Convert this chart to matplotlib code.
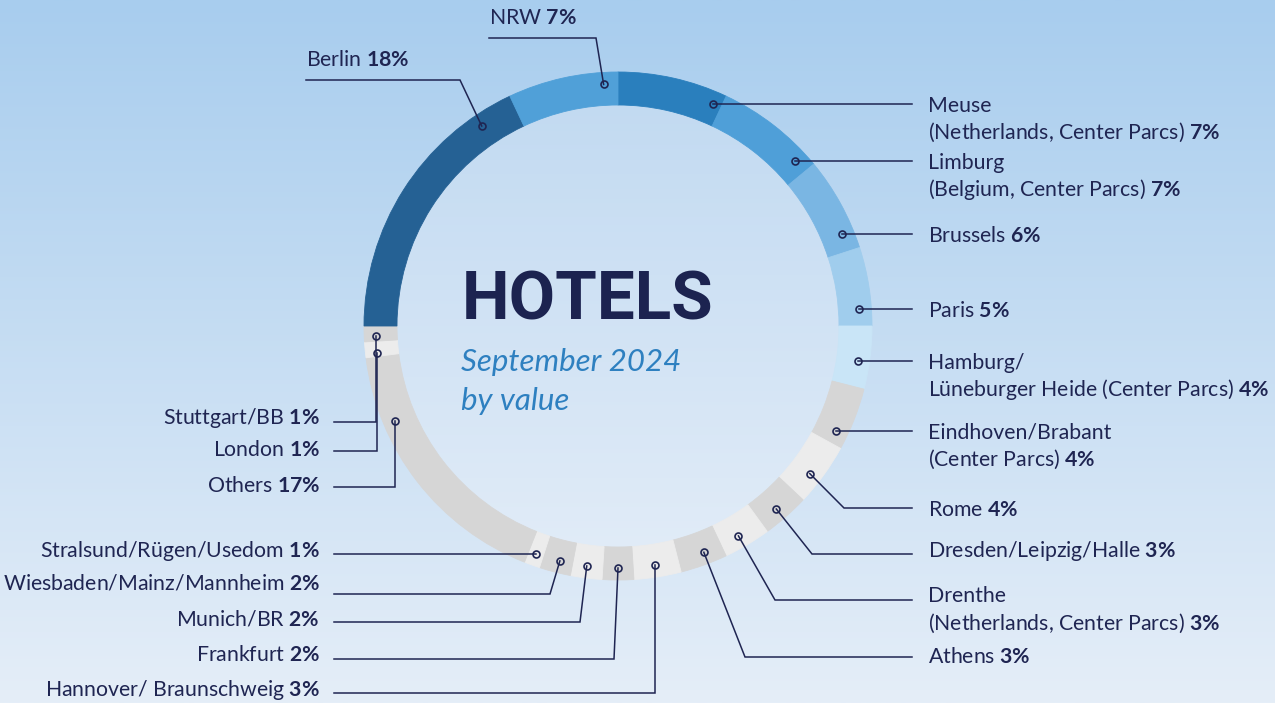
import numpy as np
import matplotlib.pyplot as plt
import matplotlib.colors as mcolors
from matplotlib.patches import Circle

plt.rcParams['font.family'] = ['Lato', 'DejaVu Sans']
plt.rcParams['mathtext.fontset'] = 'custom'
plt.rcParams['mathtext.rm'] = 'Lato'
plt.rcParams['mathtext.bf'] = 'Lato:bold'

W, H = 1275, 703

names = ["Meuse\n(Netherlands, Center Parcs)", "Limburg\n(Belgium, Center Parcs)", "Brussels", "Paris",
         "Hamburg/\nLüneburger Heide (Center Parcs)", "Eindhoven/Brabant\n(Center Parcs)", "Rome",
         "Dresden/Leipzig/Halle", "Drenthe\n(Netherlands, Center Parcs)", "Athens",
         "Hannover/ Braunschweig", "Frankfurt", "Munich/BR", "Wiesbaden/Mainz/Mannheim",
         "Stralsund/Rügen/Usedom", "Others", "London", "Stuttgart/BB", "Berlin", "NRW"]
shares = [7, 7, 6, 5, 4, 4, 4, 3, 3, 3, 3, 2, 2, 2, 1, 17, 1, 1, 18, 7]
colors = ['#2a7fbd', '#4f9fd8', '#7ab6e3', '#a0cded', '#c9e5f7', '#d6d6d6', '#ececec',
          '#d6d6d6', '#ececec', '#d6d6d6', '#ececec', '#d6d6d6', '#ececec', '#d6d6d6',
          '#ececec', '#d6d6d6', '#ececec', '#d6d6d6', '#256194', '#50a0d8']

# label layout (pixel coords, y from top): side, text y, line y, elbow x, dot position in segment
side = ['R', 'R', 'R', 'R', 'R', 'R', 'R', 'R', 'R', 'R',
        'L', 'L', 'L', 'L', 'L', 'L', 'L', 'L', 'T', 'T']
text_y = [None, None, None, None, None, None, 510, 551, 596, 657,
          690, 655, 620, 583, None, 486, 450, 418, 60, 18]
line_y = [None, None, None, None, None, None, 508, 554, 600, 657,
          693, 659, 622, 594, None, 487, 451, 422, 80, 38]
elbow_x = [None, None, None, None, None, None, 844, 812, 775, 745,
           None, 614, 580, 550, None, None, None, None, 460, 596]
top_x = {18: 306, 19: 489}
dot_frac = [0.92, 0.86, 0.80, 0.78, 0.57, 0.78, 0.61, 0.55, 0.57, 0.41,
            0.52, 0.5, 0.53, 0.43, 0.47, 0.74, 0.25, 0.36, 0.86, 0.865]

navy = '#1f2552'
cx, cy = 618, H - 326
R, RW = 254, 33

fig = plt.figure(figsize=(W / 100, H / 100), dpi=100)
ax = fig.add_axes([0, 0, 1, 1])

# background gradient
bg = mcolors.LinearSegmentedColormap.from_list('bg', ['#a8cdee', '#e5eef8'])
grad = np.linspace(0, 1, 256).reshape(-1, 1)
ax.imshow(grad, cmap=bg, extent=[0, W, 0, H], aspect='auto', zorder=0)

# lighter inner disc
disc = mcolors.LinearSegmentedColormap.from_list('disc', ['#c0d9f1', '#e3edf8'])
im = ax.imshow(grad, cmap=disc, extent=[cx - R, cx + R, cy - R, cy + R], aspect='auto', zorder=1)
im.set_clip_path(Circle((cx, cy), R - RW + 1, transform=ax.transData))

wedges, _ = ax.pie(shares, colors=colors, startangle=90, counterclock=False, radius=R,
                   center=(cx, cy), wedgeprops=dict(width=RW, linewidth=0.6), frame=True)
for w in wedges:
    w.set_edgecolor(w.get_facecolor())
    w.set_zorder(2)

rm = 242
for i, w in enumerate(wedges):
    ang = np.radians(w.theta2 - dot_frac[i] * (w.theta2 - w.theta1))
    dx, dy = cx + rm * np.cos(ang), cy + rm * np.sin(ang)
    dy_pix = H - dy
    lines = names[i].split('\n')
    lines[-1] = lines[-1] + r' $\mathbf{' + str(shares[i]) + r'\%}$'
    s = side[i]
    ly = dy_pix if line_y[i] is None else line_y[i]
    ex = dx if elbow_x[i] is None else elbow_x[i]
    if s == 'R':
        xs, ys = [dx, ex, 912], [dy_pix, ly, ly]
        ty = ly + 2 if text_y[i] is None else text_y[i]
        tx, ha = 928, 'left'
    elif s == 'L':
        xs, ys = [dx, ex, 334], [dy_pix, ly, ly]
        ty = ly - 3 if text_y[i] is None else text_y[i]
        tx, ha = 320, 'right'
    else:
        xs, ys = [dx, ex, top_x[i]], [dy_pix, ly, ly]
        ty = text_y[i]
        tx, ha = top_x[i], 'left'
    ax.plot(xs, [H - v for v in ys], color=navy, lw=1.1, zorder=3, solid_joinstyle='miter')
    ax.plot(dx, dy, 'o', ms=5, mfc='none', mec=navy, mew=1.2, zorder=4)
    for k, ln in enumerate(lines):
        ax.text(tx, H - (ty + 27 * k), ln, ha=ha, va='center', fontsize=15.3, color=navy, zorder=5)

ax.text(462, H - 302, 'HOTELS', fontsize=48.5, fontweight='bold', color='#1c2350',
        family=['Roboto', 'DejaVu Sans'], va='center', ha='left', zorder=5)
ax.text(461, H - 362, 'September 2024', fontsize=22.5, style='italic', color='#2e80c0',
        va='center', ha='left', zorder=5)
ax.text(461, H - 401, 'by value', fontsize=22.5, style='italic', color='#2e80c0',
        va='center', ha='left', zorder=5)

ax.set_xlim(0, W)
ax.set_ylim(0, H)
ax.set_aspect('equal')
ax.axis('off')

fig.savefig('out.png', dpi=100)
